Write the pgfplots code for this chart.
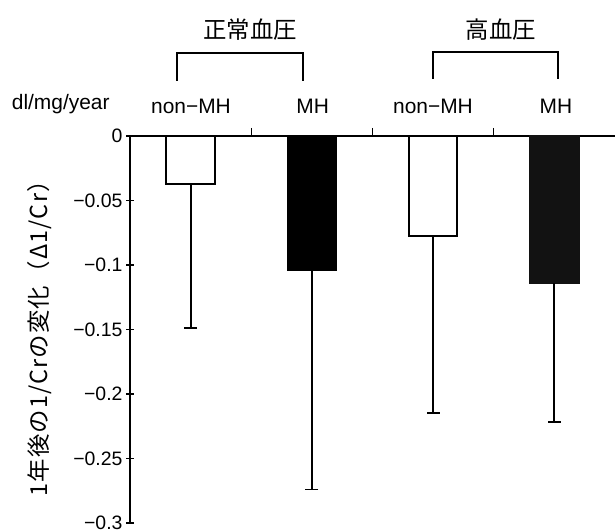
\documentclass[border=0pt]{standalone}
\usepackage{fontspec}
\setmainfont{Liberation Sans}
\newfontfamily\cjk{Noto Sans CJK JP}
\newfontfamily\cjkls[LetterSpace=5]{Noto Sans CJK JP}
\usepackage{pgfplots}
\pgfplotsset{compat=1.18}
\pgfplotsset{
  errbar/.style={
    error bars/.cd, y dir=minus, y explicit,
    error bar style={line width=1.8bp, black, solid},
    error mark options={rotate=90, mark size=6.5bp, line width=1.8bp, black}
  }
}
\begin{document}
\begin{tikzpicture}[x=1bp,y=1bp]
\path[use as bounding box] (0,0) rectangle (615,532);
\begin{axis}[
  at={(130bp,9bp)}, anchor=south west,
  scale only axis, width=485bp, height=387bp,
  xmin=0, xmax=4, ymin=-0.3, ymax=0,
  axis x line=top, axis y line=left,
  axis line style={line width=1.8bp, -},
  xtick={1,2,3}, xticklabels={}, xtick align=outside,
  ytick={-0.3,-0.25,-0.2,-0.15,-0.1,-0.05,0},
  yticklabels={\raisebox{1.5bp}{−0.3},−0.25,−0.2,−0.15,−0.1,−0.05,0},
  ytick align=center,
  tick style={line width=1.4bp, black},
  major tick length=8bp,
  tick label style={font=\fontsize{19.5}{23}\selectfont},
  clip=false,
]
\addplot[ybar, bar width=0.4, bar shift=0pt, fill=white, draw=black, line width=1.8bp, errbar]
  coordinates {(0.5,-0.037) +- (0,0.112)};
\addplot[ybar, bar width=0.4, bar shift=0pt, fill=black, draw=black, line width=1.8bp, errbar]
  coordinates {(1.5,-0.104) +- (0,0.170)};
\addplot[ybar, bar width=0.4, bar shift=0pt, fill=white, draw=black, line width=1.8bp, errbar]
  coordinates {(2.5,-0.0775) +- (0,0.137)};
\addplot[ybar, bar width=0.4, bar shift=0pt, fill=black!93, draw=black!93, line width=1.8bp, errbar]
  coordinates {(3.5,-0.114) +- (0,0.1075)};
\end{axis}
\node[font=\cjk\fontsize{23.5}{27}\selectfont] at (250,502) {正常血圧};
\node[font=\cjk\fontsize{23.5}{27}\selectfont] at (501,502) {高血圧};
\draw[line width=1.8bp] (177.3,451.3) -- (177.3,479.3) -- (303.3,479.3) -- (303.3,451.3);
\draw[line width=1.8bp] (432.7,453) -- (432.7,480.3) -- (557.7,480.3) -- (557.7,453);
\begin{scope}[every node/.style={font=\fontsize{21}{25}\selectfont, inner sep=0pt, anchor=base}]
\node at (191,418) {non−MH};
\node at (312.7,418) {MH};
\node at (433,418) {non−MH};
\node at (556,418) {MH};
\node[anchor=base west] at (11.7,422.7) {dl/mg/year};
\end{scope}
\node[font=\cjkls\fontsize{23.5}{27}\selectfont, rotate=90, inner sep=0pt] at (40,199) {1年後の1/Crの変化（Δ1/Cr）};
\end{tikzpicture}
\end{document}
